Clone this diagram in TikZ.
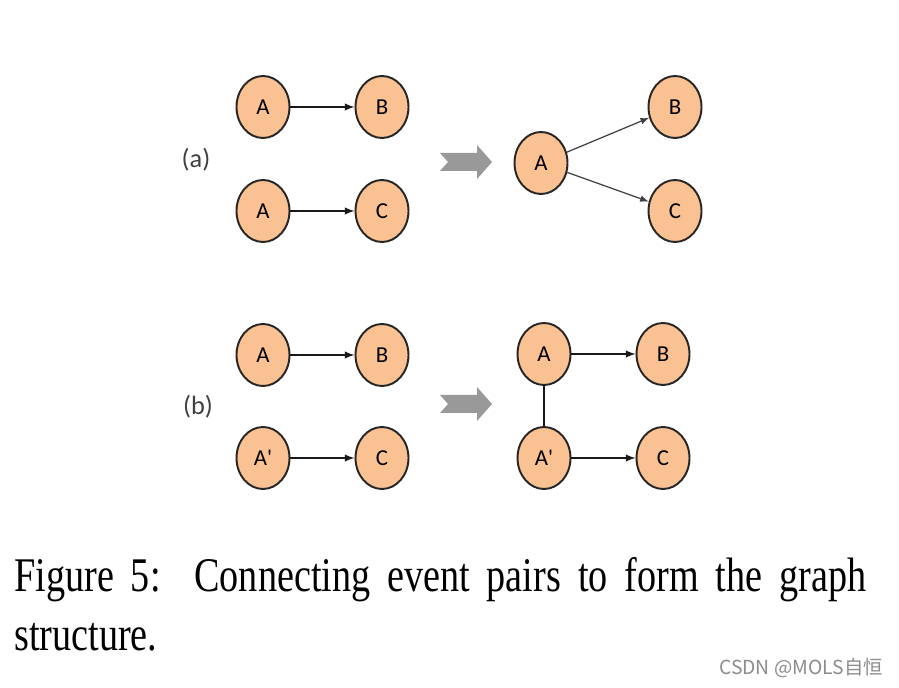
\documentclass[tikz,border=0pt]{standalone}
\usepackage{fontspec}
\setmainfont{Liberation Serif}
\newfontfamily\nodefont{Carlito}
\newfontfamily\cjkfont{Noto Sans CJK SC}
\usetikzlibrary{shapes.geometric,arrows}
\definecolor{eventfill}{RGB}{250,194,146}
\def\layersep{119}
\newcommand{\capword}[1]{\scalebox{0.79}[1]{#1}}

\begin{document}
\begin{tikzpicture}[x=0.02cm,y=-0.02cm,>=latex]
		\tikzstyle{event}=[ellipse,draw=black!85,line width=1.1pt,fill=eventfill,minimum width=1.06cm,minimum height=1.24cm,inner sep=0pt,font=\nodefont\fontsize{13}{13}\selectfont]
		\tikzstyle{link}=[->,line width=0.9pt,draw=black!90]
		\tikzstyle{thin link}=[link,draw=black!75,line width=0.7pt]
		\tikzstyle{merge}=[fill=black!40]
		\tikzstyle{tag}=[font=\nodefont\fontsize{15}{15}\selectfont,text=black!75]
		\useasboundingbox[fill=white] (0,0) rectangle (899,688);
		
		% Draw the event pairs of part (a)
		\node[event] (a-A1) at (263,107) {A};
		\node[event] (a-B) at (263+\layersep,107) {B};
		\node[event] (a-A2) at (263,211) {A};
		\node[event] (a-C) at (263+\layersep,211) {C};
		\node[tag] (a-tag) at (196,160) {(a)};
		
		% Draw the merged graph of part (a)
		\node[event] (a-Am) at (541,163) {A};
		\node[event] (a-Bm) at (675,107) {B};
		\node[event] (a-Cm) at (675,211) {C};
		
		% Draw the event pairs of part (b)
		\node[event] (b-A) at (263,355) {A};
		\node[event] (b-B) at (263+\layersep,355) {B};
		\node[event] (b-Ap) at (263,458) {A'};
		\node[event] (b-C) at (263+\layersep,458) {C};
		\node[tag] (b-tag) at (198,407) {(b)};
		
		% Draw the merged graph of part (b)
		\node[event] (b-Am) at (544,354) {A};
		\node[event] (b-Bm) at (544+\layersep,354) {B};
		\node[event] (b-Apm) at (544,458) {A'};
		\node[event] (b-Cm) at (544+\layersep,458) {C};
		
		% Draw the gray merge arrows
		\foreach \y in {162,404}
		\path[merge,shift={(0,\y)}] (440,-9) -- (477,-9) -- (477,-17) -- (492,0) -- (477,17) -- (477,9) -- (440,9) -- (448,0) -- cycle;
		
		% Connect the event pairs
		\draw[link] (a-A1) -- (a-B);
		\draw[link] (a-A2) -- (a-C);
		\draw[link] (b-A) -- (b-B);
		\draw[link] (b-Ap) -- (b-C);
		\draw[thin link] (a-Am) -- (a-Bm);
		\draw[thin link] (a-Am) -- (a-Cm);
		\draw[link] (b-Am) -- (b-Bm);
		\draw[link] (b-Apm) -- (b-Cm);
		\draw[line width=0.9pt,draw=black!90] (b-Am) -- (b-Apm);
		
		% Caption
		\node[anchor=base west,inner sep=0pt] (cap1) at (14,592) {\fontsize{27.5}{30}\selectfont\makebox[17.04cm][s]{\capword{Figure}\ \capword{5:}\ \ \capword{Connecting}\ \capword{event}\ \capword{pairs}\ \capword{to}\ \capword{form}\ \capword{the}\ \capword{graph}}};
		\node[anchor=base west,inner sep=0pt] (cap2) at (14,650) {\fontsize{27.5}{30}\selectfont\capword{structure.}};
		\node[anchor=east,inner sep=0pt,text=black!45] (mark) at (883,668) {\cjkfont\fontsize{11}{11}\selectfont CSDN @MOLS自恒};
	\end{tikzpicture}
\end{document}
